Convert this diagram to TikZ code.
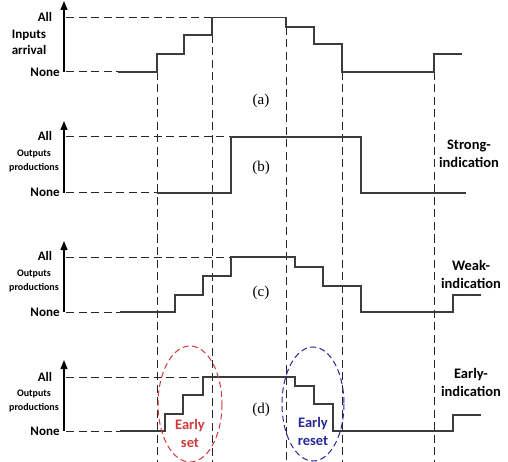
\documentclass[tikz,border=0pt]{standalone}
\usepackage{fontspec}
\setmainfont{Liberation Serif}
\newfontfamily\lblfont{Carlito}
\usetikzlibrary{arrows.meta}
\definecolor{sig}{RGB}{60,60,60}
\definecolor{ered}{RGB}{205,60,60}
\definecolor{eblue}{RGB}{40,40,150}
\tikzset{
  sigline/.style={draw=sig,line width=1.3pt},
  guide/.style={draw=black!85,line width=1pt,dash pattern=on 8pt off 4.5pt},
  axisline/.style={draw=black,line width=1.2pt,-{Triangle[length=9pt,width=7pt]}},
  lbl/.style={font=\lblfont\bfseries\fontsize{13}{16}\selectfont,inner sep=0pt,align=center},
  smlbl/.style={font=\lblfont\bfseries\fontsize{10}{13.5}\selectfont,inner sep=0pt,align=center},
  panel/.style={font=\fontsize{15}{17}\selectfont,inner sep=0pt},
  side/.style={font=\lblfont\bfseries\fontsize{14.5}{18}\selectfont,inner sep=0pt,align=center}
}
\begin{document}
\begin{tikzpicture}[x=1pt,y=-1pt]
\useasboundingbox (0,0) rectangle (508,462);
% vertical guides
\draw[guide] (157,72) -- (157,462);
\draw[guide] (212,35) -- (212,462);
\draw[guide] (286,27) -- (286,462);
\draw[guide] (342,72) -- (342,462);
\draw[guide] (434,72) -- (434,462);
% ---------- panel (a)
\draw[axisline] (64,72) -- (64,1);
\draw[guide] (66,17.5) -- (212,17.5);
\draw[guide] (66,72) -- (118,72);
\draw[sigline] (118,72) -- (157,72) -- (157,54) -- (184,54) -- (184,35) -- (212,35) -- (212,17.5) -- (286,17.5) -- (286,27) -- (314,27) -- (314,44) -- (342,44) -- (342,72) -- (434,72) -- (434,54) -- (462,54);
\node[lbl] (a1) at (45,17) {All};
\node[lbl] (a2) at (29,42) {Inputs\\arrival};
\node[lbl] (a3) at (45,72) {None};
\node[panel] (pa) at (261,101) {(a)};
% ---------- panel (b)
\draw[axisline] (64,193) -- (64,121);
\draw[guide] (66,137) -- (231,137);
\draw[guide] (66,193) -- (157,193);
\draw[sigline] (157,193) -- (231,193) -- (231,137) -- (361,137) -- (361,193) -- (466,193);
\node[lbl] (b1) at (45,136) {All};
\node[smlbl] (b2) at (34,161) {Outputs\\productions};
\node[lbl] (b3) at (45,192) {None};
\node[panel] (pb) at (261,168) {(b)};
\node[side] (sb) at (469,154) {Strong-\\indication};
% ---------- panel (c)
\draw[axisline] (64,312) -- (64,241);
\draw[guide] (66,257) -- (231,257);
\draw[guide] (66,312) -- (120,312);
\draw[sigline] (120,312) -- (175,312) -- (175,295) -- (203,295) -- (203,276) -- (231,276) -- (231,257) -- (295,257) -- (295,267) -- (323,267) -- (323,286) -- (361,286) -- (361,312) -- (453,312) -- (453,295) -- (481,295);
\node[lbl] (c1) at (45,256) {All};
\node[smlbl] (c2) at (34,281) {Outputs\\productions};
\node[lbl] (c3) at (45,312) {None};
\node[panel] (pc) at (261,293) {(c)};
\node[side] (sc) at (471,274) {Weak-\\indication};
% ---------- panel (d)
\draw[axisline] (64,431) -- (64,360);
\draw[guide] (66,377) -- (203,377);
\draw[guide] (66,431) -- (120,431);
\draw[sigline] (120,431) -- (165,431) -- (165,414) -- (183,414) -- (183,395) -- (203,395) -- (203,377) -- (295,377) -- (295,386) -- (314,386) -- (314,404) -- (333,404) -- (333,431) -- (453,431) -- (453,415) -- (481,415);
\node[lbl] (d1) at (45,377) {All};
\node[smlbl] (d2) at (34,401) {Outputs\\productions};
\node[lbl] (d3) at (45,431) {None};
\node[panel] (pd) at (261,410) {(d)};
\node[side] (sd) at (471,382) {Early-\\indication};
% ellipses
\draw[ered,line width=1pt,dash pattern=on 6pt off 3.5pt] (190,404) ellipse [x radius=32,y radius=58];
\draw[eblue,line width=1pt,dash pattern=on 6pt off 3.5pt] (313,404) ellipse [x radius=31,y radius=57];
\node[side,text=ered] (es) at (190,433) {Early\\set};
\node[side,text=eblue] (er) at (313,431) {Early\\reset};
\end{tikzpicture}
\end{document}
